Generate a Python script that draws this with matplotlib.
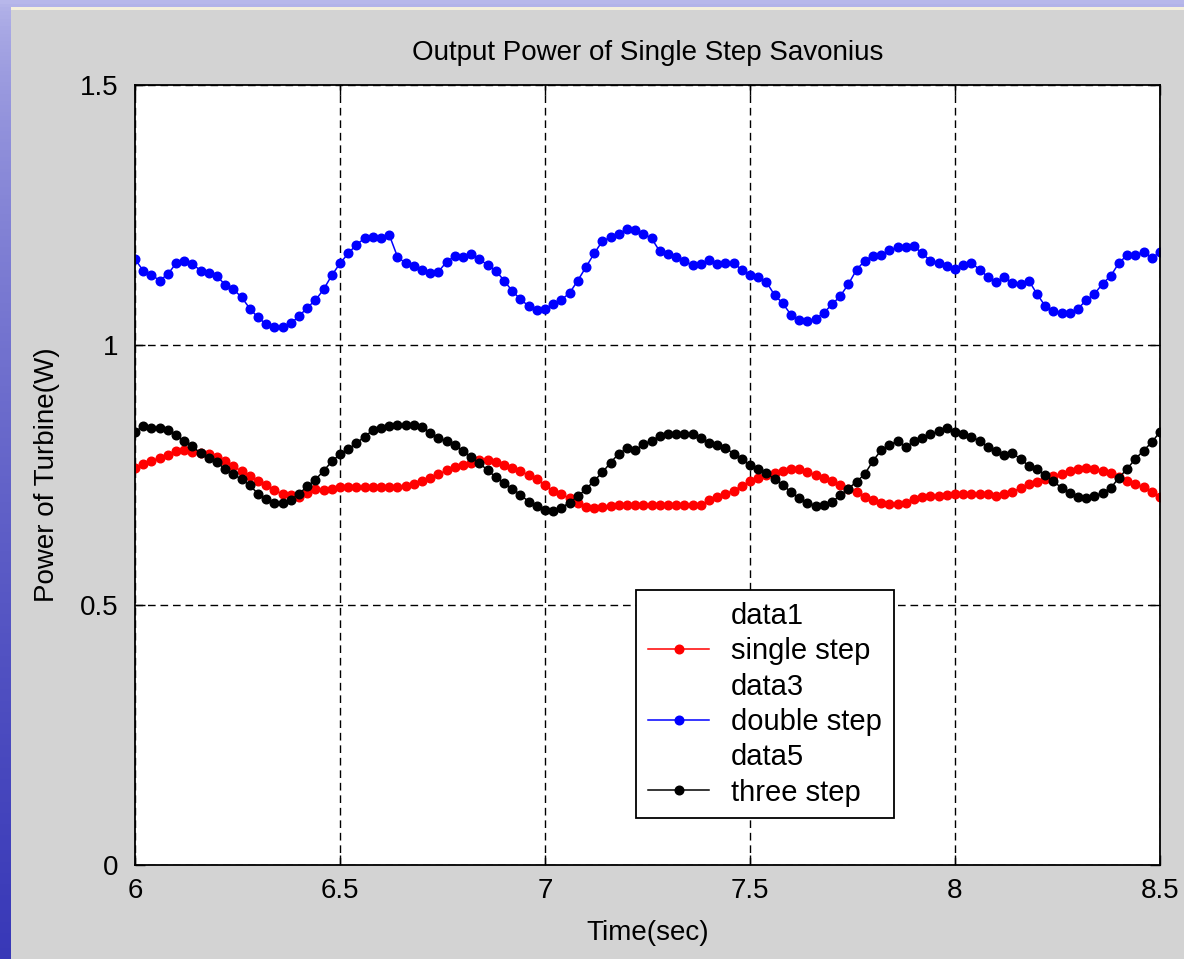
import numpy as np
import matplotlib
matplotlib.use("Agg")
import matplotlib.pyplot as plt
from matplotlib.patches import Rectangle

plt.rcParams['font.family'] = ['Liberation Sans', 'DejaVu Sans']

# sampling grid of the measurements (6 s to 8.5 s, 0.02 s steps)
t = np.linspace(6.0, 8.5, 126)

single_step = [
    0.763, 0.771, 0.777, 0.783, 0.789, 0.796, 0.798, 0.794, 0.792, 0.790,
    0.784, 0.777, 0.767, 0.757, 0.749, 0.739, 0.731, 0.721, 0.713, 0.711,
    0.708, 0.716, 0.723, 0.721, 0.724, 0.726, 0.726, 0.726, 0.726, 0.726,
    0.726, 0.726, 0.726, 0.729, 0.733, 0.738, 0.745, 0.751, 0.759, 0.765,
    0.769, 0.774, 0.779, 0.779, 0.775, 0.769, 0.763, 0.757, 0.750, 0.742,
    0.730, 0.720, 0.713, 0.705, 0.697, 0.689, 0.687, 0.689, 0.690, 0.692,
    0.692, 0.692, 0.692, 0.692, 0.692, 0.692, 0.692, 0.692, 0.692, 0.692,
    0.701, 0.707, 0.714, 0.720, 0.729, 0.738, 0.744, 0.750, 0.754, 0.758,
    0.761, 0.761, 0.755, 0.750, 0.745, 0.739, 0.731, 0.723, 0.717, 0.708,
    0.701, 0.697, 0.694, 0.694, 0.697, 0.704, 0.708, 0.710, 0.710, 0.711,
    0.713, 0.713, 0.713, 0.713, 0.714, 0.709, 0.713, 0.718, 0.725, 0.733,
    0.736, 0.742, 0.748, 0.751, 0.757, 0.761, 0.763, 0.761, 0.758, 0.753,
    0.747, 0.739, 0.733, 0.726, 0.718, 0.708,
]

double_step = [
    1.165, 1.143, 1.135, 1.124, 1.136, 1.157, 1.162, 1.156, 1.143, 1.138,
    1.132, 1.116, 1.107, 1.092, 1.070, 1.053, 1.040, 1.035, 1.035, 1.042,
    1.055, 1.072, 1.086, 1.107, 1.134, 1.157, 1.176, 1.193, 1.205, 1.207,
    1.205, 1.212, 1.170, 1.157, 1.152, 1.144, 1.139, 1.141, 1.160, 1.171,
    1.170, 1.175, 1.166, 1.153, 1.143, 1.124, 1.104, 1.088, 1.075, 1.068,
    1.070, 1.078, 1.087, 1.100, 1.124, 1.150, 1.176, 1.200, 1.207, 1.213,
    1.224, 1.221, 1.214, 1.205, 1.180, 1.175, 1.170, 1.161, 1.153, 1.155,
    1.163, 1.156, 1.158, 1.157, 1.145, 1.134, 1.130, 1.121, 1.096, 1.080,
    1.058, 1.049, 1.046, 1.050, 1.062, 1.078, 1.094, 1.117, 1.145, 1.162,
    1.172, 1.174, 1.182, 1.188, 1.188, 1.190, 1.176, 1.162, 1.158, 1.151,
    1.146, 1.154, 1.158, 1.145, 1.131, 1.121, 1.130, 1.120, 1.118, 1.124,
    1.098, 1.075, 1.066, 1.061, 1.061, 1.070, 1.086, 1.098, 1.118, 1.133,
    1.158, 1.173, 1.173, 1.179, 1.168, 1.178,
]

three_step = [
    0.833, 0.844, 0.841, 0.840, 0.836, 0.826, 0.815, 0.805, 0.792, 0.783,
    0.775, 0.761, 0.751, 0.742, 0.730, 0.714, 0.703, 0.697, 0.697, 0.702,
    0.714, 0.728, 0.741, 0.758, 0.776, 0.790, 0.800, 0.811, 0.824, 0.836,
    0.841, 0.844, 0.846, 0.846, 0.846, 0.843, 0.831, 0.822, 0.815, 0.807,
    0.796, 0.784, 0.773, 0.759, 0.746, 0.734, 0.724, 0.712, 0.699, 0.690,
    0.682, 0.681, 0.687, 0.697, 0.709, 0.723, 0.739, 0.755, 0.774, 0.791,
    0.801, 0.798, 0.809, 0.816, 0.825, 0.829, 0.829, 0.829, 0.829, 0.822,
    0.812, 0.807, 0.802, 0.791, 0.780, 0.769, 0.761, 0.753, 0.743, 0.731,
    0.717, 0.705, 0.697, 0.691, 0.692, 0.698, 0.711, 0.724, 0.737, 0.752,
    0.777, 0.798, 0.808, 0.815, 0.803, 0.815, 0.822, 0.828, 0.834, 0.840,
    0.833, 0.829, 0.823, 0.816, 0.804, 0.797, 0.789, 0.793, 0.780, 0.768,
    0.761, 0.750, 0.738, 0.725, 0.716, 0.707, 0.705, 0.709, 0.716, 0.725,
    0.745, 0.762, 0.781, 0.797, 0.813, 0.833,
]

xticks = [6, 6.5, 7, 7.5, 8, 8.5]
xticklabels = ['6', '6.5', '7', '7.5', '8', '8.5']
yticks = [0, 0.5, 1, 1.5]
yticklabels = ['0', '0.5', '1', '1.5']

W, H = 1184, 959
fig = plt.figure(figsize=(W / 100, H / 100), dpi=100)

# slide background: blue gradient behind a grey figure window
bg = fig.add_axes([0, 0, 1, 1], zorder=-10)
grad = np.linspace(0, 1, 256).reshape(-1, 1)
top_col = np.array([0.72, 0.72, 0.92])
bot_col = np.array([0.22, 0.22, 0.72])
img = top_col + (bot_col - top_col) * grad[:, :, None] ** 0.6
bg.imshow(img, aspect='auto', extent=[0, 1, 0, 1])
bg.set_axis_off()
fig.patches.append(Rectangle((11 / W, 0), 1, (H - 10) / H, transform=fig.transFigure,
                             facecolor='#d3d3d3', edgecolor='none', zorder=-5))
fig.patches.append(Rectangle((11 / W, (H - 10) / H), 1, 3 / H, transform=fig.transFigure,
                             facecolor='#f4efdc', edgecolor='none', zorder=-5))

ax = fig.add_axes([135 / W, (H - 865) / H, 1025 / W, 780 / H])
ax.set_facecolor('white')

mk = dict(marker='o', markersize=6.2, linewidth=1.1)
ax.plot(t, single_step, color='none', label='data1')
ax.plot(t, single_step, color='#ff0000', label='single step', **mk)
ax.plot(t, double_step, color='none', label='data3')
ax.plot(t, double_step, color='#0000ff', label='double step', **mk)
ax.plot(t, three_step, color='none', label='data5')
ax.plot(t, three_step, color='black', label='three step', **mk)

ax.set_xlim(6, 8.5)
ax.set_ylim(0, 1.5)
ax.set_xticks(xticks)
ax.set_xticklabels(xticklabels)
ax.set_yticks(yticks)
ax.set_yticklabels(yticklabels)
ax.grid(True, color='black', linestyle=(0, (5.5, 3.5)), linewidth=1)
ax.tick_params(direction='in', top=True, right=True, length=7, width=1,
               labelsize=20, colors='black')
ax.tick_params(axis='x', pad=9)
ax.tick_params(axis='y', pad=12)
for s in ax.spines.values():
    s.set_linewidth(1.3)
    s.set_color('black')

ax.set_title('Output Power of Single Step Savonius', fontsize=20, pad=18)
ax.set_xlabel('Time(sec)', fontsize=20, labelpad=12)
ax.set_ylabel('Power of Turbine(W)', fontsize=20, labelpad=14)

leg = ax.legend(loc='lower left', bbox_to_anchor=(0.489, 0.06), fontsize=21,
                frameon=True, fancybox=False, edgecolor='black', framealpha=1,
                handlelength=2.1, labelspacing=0.25, borderpad=0.4,
                handletextpad=0.75, borderaxespad=0)
leg.get_frame().set_linewidth(1.3)

fig.savefig('out.png', dpi=100)
